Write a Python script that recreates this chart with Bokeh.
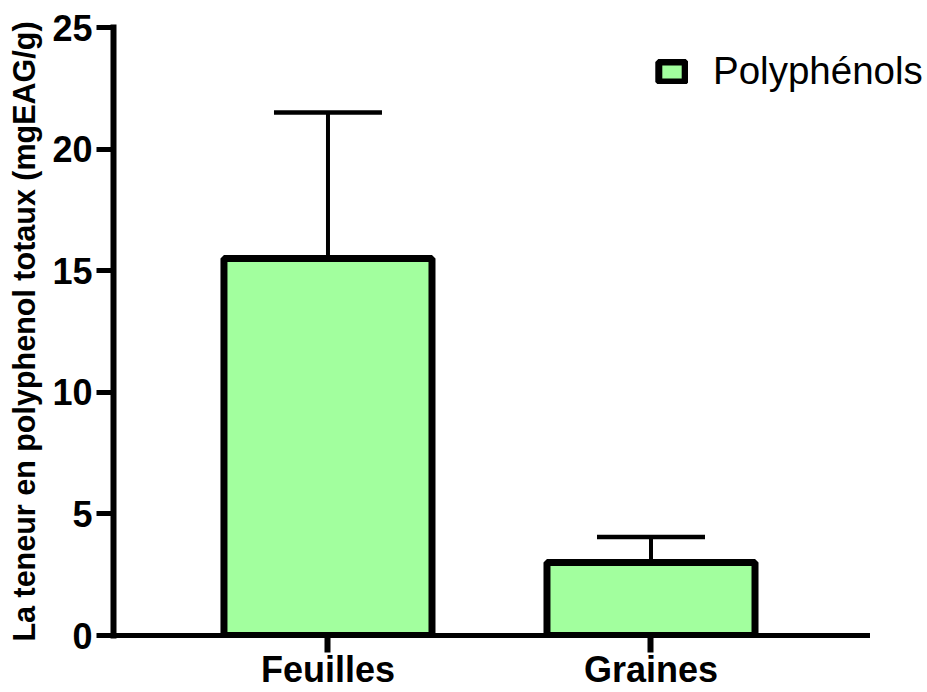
from bokeh.plotting import figure
from bokeh.models import (ColumnDataSource, Range1d, FixedTicker, Whisker, TeeHead,
                          Legend, LegendItem)
from bokeh.embed import file_html
from bokeh.resources import INLINE

categories = ["Feuilles", "Graines"]
values = [15.5, 3.0]
errors = [6.0, 1.05]
series_name = "Polyphénols"
y_ticks = [0, 5, 10, 15, 20, 25]
y_label = "La teneur en polyphenol totaux (mgEAG/g)"

FONT = "Liberation Sans"

# category slots on the x scale (1, 2, ...)
slots = list(range(1, len(categories) + 1))

src = ColumnDataSource(dict(
    x=slots,
    cat=categories,
    val=values,
    upper=[v + e for v, e in zip(values, errors)],
))

p = figure(
    x_range=Range1d(0.336, 2.856),
    y_range=Range1d(0, 25),
    width=927, height=692,
    output_backend="svg", toolbar_location=None,
    min_border_left=113, min_border_right=0,
    min_border_top=27, min_border_bottom=56,
)
p.outline_line_color = None
p.grid.visible = False
p.background_fill_color = "white"

bars = p.vbar(x="x", top="val", width=0.644, source=src,
              fill_color="#A2FF9E", line_color="black", line_width=7)

wh = Whisker(base="x", upper="upper", lower="val", source=src,
             upper_head=TeeHead(size=108, line_color="black", line_width=4.5),
             lower_head=None, line_color="black", line_width=4)
p.add_layout(wh)

# y axis
ya = p.yaxis[0]
ya.ticker = FixedTicker(ticks=y_ticks)
ya.axis_label = y_label
ya.axis_label_text_font = FONT
ya.axis_label_text_font_style = "bold"
ya.axis_label_text_font_size = "30.5px"
ya.axis_label_text_color = "black"
ya.axis_label_standoff = 8
ya.major_label_text_font = FONT
ya.major_label_text_font_style = "bold"
ya.major_label_text_font_size = "36px"
ya.major_label_text_color = "black"
ya.major_label_standoff = 4
ya.major_tick_out = 17
ya.major_tick_in = 0
ya.major_tick_line_width = 5
ya.minor_tick_line_color = None
ya.axis_line_width = 6
ya.axis_line_cap = "square"

# x axis (category labels on the slots)
xa = p.xaxis[0]
xa.ticker = FixedTicker(ticks=slots)
xa.major_label_overrides = {s: c for s, c in zip(slots, categories)}
xa.minor_tick_line_color = None
xa.bounds = (0.336, 2.67)
xa.major_label_text_font = FONT
xa.major_label_text_font_style = "bold"
xa.major_label_text_font_size = "36px"
xa.major_label_text_color = "black"
xa.major_label_standoff = -4
xa.major_tick_out = 17
xa.major_tick_in = 0
xa.major_tick_line_width = 6
xa.axis_line_width = 5
xa.axis_line_cap = "square"

legend = Legend(
    items=[LegendItem(label=series_name, renderers=[bars])],
    location=(542, 542),
    border_line_color=None, background_fill_alpha=0,
    padding=0, margin=0, spacing=0,
    glyph_width=33, glyph_height=25, label_standoff=25,
    label_text_font=FONT, label_text_font_size="38.5px",
    label_text_color="black",
)
p.add_layout(legend)

open("out.html", "w").write(file_html(p, INLINE))
